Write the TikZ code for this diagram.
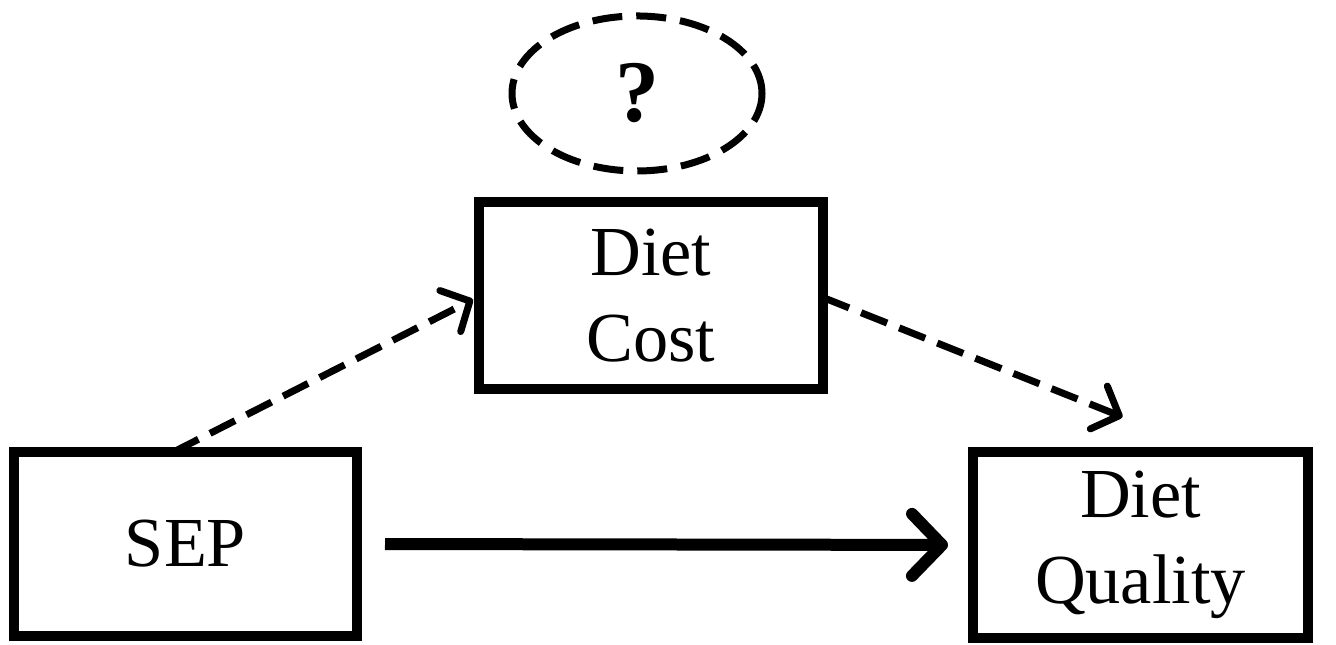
\documentclass[tikz,border=0pt]{standalone}
\usepackage{fontspec}
\setmainfont{Liberation Serif}
\usepackage{tikz}
\usetikzlibrary{arrows.meta,calc,shapes.geometric,positioning}
\tikzset{>={Straight Barb[round]}}

\begin{document}
\begin{tikzpicture}[
    varbox/.style={draw=black, line width=0.1cm, rectangle, inner sep=0pt, outer sep=0pt,
        align=center, font=\fontsize{20}{24.5}\selectfont},
    unknown/.style={draw=black, line width=0.07cm, ellipse, dash pattern=on 0.3cm off 0.14cm,
        minimum width=2.5cm, minimum height=1.55cm, inner sep=0pt, font=\fontsize{25}{30}\selectfont\bfseries},
    direct/.style={line width=0.12cm, arrows={-Straight Barb[round, length=0.3cm, width=0.62cm]}},
    indirect/.style={line width=0.07cm, dash pattern=on 0.28cm off 0.13cm,
        arrows={-Straight Barb[round, length=0.22cm, width=0.46cm]}}
]
                \useasboundingbox (0,0) rectangle (13.36,6.45);

                \node[varbox, minimum width=3.43cm, minimum height=1.84cm] (sep) at (1.855,1.01) {SEP};
                \node[varbox, minimum width=3.44cm, minimum height=1.87cm] (cost) at (6.51,3.495) {Diet\\Cost};
                \node[varbox, minimum width=3.35cm, minimum height=1.86cm] (quality) at (11.405,1.0) {Diet\\Quality};

                \node[unknown] (q) at (6.37,5.515) {?};

                \draw[direct, shorten <=0.28cm, shorten >=0.25cm] (sep.east) -- (quality.west);

                \draw[indirect] ([xshift=-0.12cm]sep.north) -- ([xshift=-0.06cm, yshift=-0.04cm]cost.west);
                \draw[indirect] ([yshift=-0.02cm]cost.east) -- ([shift={(-0.18,0.35)}]quality.north);
            \end{tikzpicture}
\end{document}
